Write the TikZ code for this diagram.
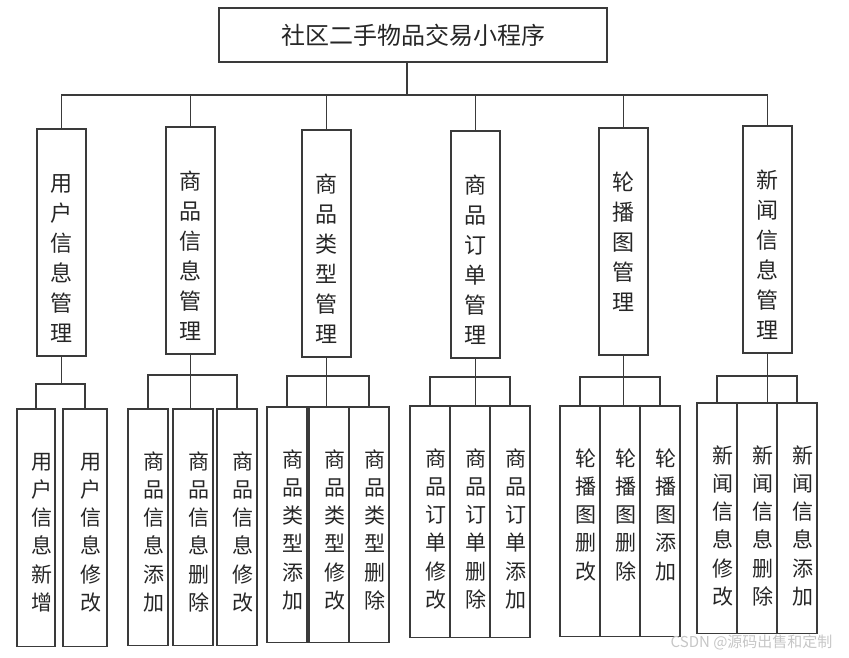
\documentclass[tikz,border=0pt]{standalone}
\usepackage{fontspec}
\setmainfont{Noto Sans CJK SC}
\usepackage{xcolor}
\usepackage{tikz}
\usetikzlibrary{positioning}

\definecolor{inkgray}{HTML}{3A3A3A}
\newcommand{\modstack}[1]{\parbox[t]{24pt}{\centering #1}}
\newcommand{\funcstack}[1]{\hspace*{12pt}\parbox[t]{22pt}{\centering #1}}

\begin{document}
\begin{tikzpicture}[
    x=1pt, y=-1pt,
    every node/.style={text=black!85},
    titlebox/.style={
        rectangle, draw=inkgray, line width=1.1pt, outer sep=0pt, inner sep=0pt,
        anchor=north west, minimum width=388pt, minimum height=54pt,
        font=\fontsize{24}{28}\selectfont
    },
    modbox/.style={
        rectangle, draw=inkgray, line width=1.1pt, outer sep=0pt, inner sep=0pt,
        anchor=north west, minimum width=49pt, text height=62pt, text depth=165pt,
        font=\fontsize{22}{30}\selectfont
    },
    funcbox/.style={
        rectangle, draw=inkgray, line width=1.1pt, outer sep=0pt, inner sep=0pt,
        minimum width=40pt, text height=60pt, text depth=#1,
        font=\fontsize{21}{28.3}\selectfont
    },
    funcbox/.default=176pt,
    link/.style={draw=inkgray, line width=1.1pt},
    watermark/.style={text=gray!45, font=\fontsize{15}{18}\selectfont, anchor=east}
]
\useasboundingbox (0,0) rectangle (849,657);

% Root
\node[titlebox] (title) at (219,8) {社区二手物品交易小程序};

% Row 1
\node[modbox] (m1) at (37,129)  {\modstack{用\\户\\信\\息\\管\\理}};
\node[modbox] (m2) at (166,127) {\modstack{商\\品\\信\\息\\管\\理}};
\node[modbox] (m3) at (302,130) {\modstack{商\\品\\类\\型\\管\\理}};
\node[modbox] (m4) at (451,131) {\modstack{商\\品\\订\\单\\管\\理}};
\node[modbox] (m5) at (599,128) {\modstack{轮\\播\\图\\管\\理}};
\node[modbox] (m6) at (743,126) {\modstack{新\\闻\\信\\息\\管\\理}};

% Row 2
\node[funcbox=177.5pt, anchor=north west, minimum width=38pt] (a1) at (17,409) {\funcstack{用\\户\\信\\息\\新\\增}};
\node[funcbox=177.5pt, right=8pt of a1, minimum width=44pt] (a2) {\funcstack{用\\户\\信\\息\\修\\改}};

\node[funcbox=176.5pt, anchor=north west] (b1) at (128,409) {\funcstack{商\\品\\信\\息\\添\\加}};
\node[funcbox=176.5pt, right=5pt of b1] (b2) {\funcstack{商\\品\\信\\息\\删\\除}};
\node[funcbox=176.5pt, right=4pt of b2] (b3) {\funcstack{商\\品\\信\\息\\修\\改}};

\node[funcbox=175.5pt, anchor=north west] (c1) at (267,407) {\funcstack{商\\品\\类\\型\\添\\加}};
\node[funcbox=175.5pt, right=2pt of c1] (c2) {\funcstack{商\\品\\类\\型\\修\\改}};
\node[funcbox=175.5pt, right=0pt of c2] (c3) {\funcstack{商\\品\\类\\型\\删\\除}};

\node[funcbox=171.5pt, anchor=north west] (d1) at (410,406) {\funcstack{商\\品\\订\\单\\修\\改}};
\node[funcbox=171.5pt, right=0pt of d1] (d2) {\funcstack{商\\品\\订\\单\\删\\除}};
\node[funcbox=171.5pt, right=0pt of d2] (d3) {\funcstack{商\\品\\订\\单\\添\\加}};

\node[funcbox=170.5pt, anchor=north west] (e1) at (560,406) {\funcstack{轮\\播\\图\\删\\改}};
\node[funcbox=170.5pt, right=0pt of e1] (e2) {\funcstack{轮\\播\\图\\删\\除}};
\node[funcbox=170.5pt, right=0pt of e2] (e3) {\funcstack{轮\\播\\图\\添\\加}};

\node[funcbox=170.5pt, anchor=north west] (f1) at (697,403) {\funcstack{新\\闻\\信\\息\\修\\改}};
\node[funcbox=170.5pt, right=0pt of f1] (f2) {\funcstack{新\\闻\\信\\息\\删\\除}};
\node[funcbox=170.5pt, right=0pt of f2] (f3) {\funcstack{新\\闻\\信\\息\\添\\加}};

\node[watermark] (wm) at (836,642) {CSDN @源码出售和定制};

% Lines
\draw[link] ([xshift=-6pt]title.south) -- ++(0,33) coordinate (hub);
\draw[link] (m1.north) |- (hub) -| (m6.north);
\foreach \m in {m2,m3,m4,m5}
    \draw[link] (\m.north) -- (\m.north |- hub);

\draw[link] (m1.south) -- ++(0,28) coordinate (ja);
\draw[link] (a1.north) |- (ja) -| (a2.north);

\foreach \p/\l/\c/\r/\dy in {m2/b1/b2/b3/21, m3/c1/c2/c3/19, m4/d1/d2/d3/19,
                             m5/e1/e2/e3/22, m6/f1/f2/f3/23} {
    \draw[link] (\p.south) -- ++(0,\dy) coordinate (j);
    \draw[link] (\l.north) |- (j) -| (\r.north);
    \draw[link] (j) -- (j |- \c.north);
}

\end{tikzpicture}
\end{document}
